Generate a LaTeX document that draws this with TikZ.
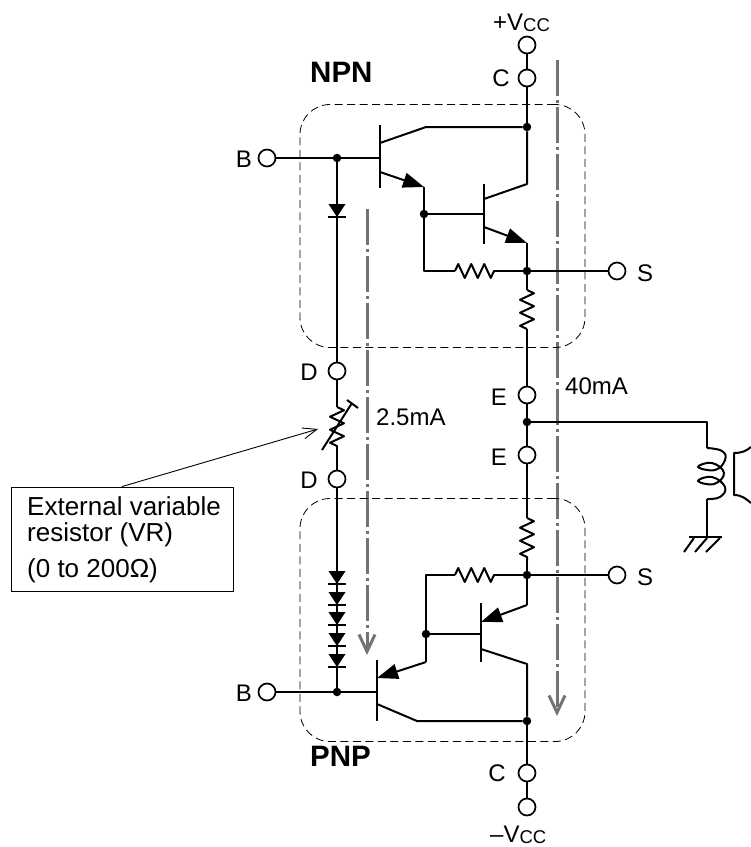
\documentclass[tikz,border=0pt]{standalone}
\usepackage{fontspec}
\setmainfont{Liberation Sans}
\usetikzlibrary{arrows.meta,decorations.pathmorphing}
\definecolor{grisFleche}{gray}{0.45}
\tikzstyle{fil}=[line width=2pt,line join=round]
\tikzstyle{filGras}=[line width=2.8pt]
\tikzstyle{borne}=[circle,draw,line width=1.7pt,fill=white,inner sep=0pt,minimum size=17pt]
\tikzstyle{point}=[circle,fill=black,inner sep=0pt,minimum size=8.5pt]
\tikzstyle{cadre}=[rectangle,rounded corners=30pt,draw,line width=0.8pt,dash pattern=on 8pt off 4.5pt,minimum width=285pt,minimum height=243pt,inner sep=0pt]
\tikzstyle{boite}=[rectangle,draw,line width=0.9pt,minimum width=222pt,minimum height=104pt,inner sep=0pt]
\tikzstyle{texte}=[font=\fontsize{24}{27}\selectfont,inner sep=0pt]
\tikzstyle{texteVR}=[font=\fontsize{26}{29}\selectfont,inner sep=0pt]
\tikzstyle{titre}=[font=\fontsize{29.5}{32}\selectfont\bfseries,inner sep=0pt]
\tikzstyle{emet}=[fil,-{Triangle[length=21pt,width=15pt]}]
\tikzstyle{base}=[line width=2.2pt]
\tikzstyle{courant}=[grisFleche,line width=3pt,dash pattern=on 36pt off 4pt on 3pt off 4pt,-{Straight Barb[length=17pt,width=16pt]}]
\tikzstyle{fleche}=[line width=0.9pt,-{Straight Barb[length=14pt,width=11pt]}]
\tikzstyle{resist}=[fil,decorate,decoration={zigzag,segment length=13pt,amplitude=7pt}]
\newcommand{\CC}{{\fontsize{18.5}{18.5}\selectfont\raisebox{-1.5pt}{CC}}}
\newcommand{\diode}[1]{\fill (337,#1) -- ++(-8.5,-13) -- ++(17,0) -- cycle;
\draw[line width=1.6pt] (328,#1) -- (346,#1);}
\begin{document}
\begin{tikzpicture}[x=1pt,y=-1pt]
\useasboundingbox (0,0) rectangle (751,847);
\coordinate (IDh) at (367,209);
\coordinate (IDb) at (367,655);
\coordinate (ICh) at (557,60);
\coordinate (ICb) at (557,716);
\draw[courant] (IDh)--(IDb);
\draw[courant] (ICh)--(ICb);
\node[cadre] (NPNc) at (442.5,226) {};
\node[cadre] (PNPc) at (442.5,620) {};

\node[borne] (VP) at (527,45) {};
\node[borne] (CH) at (527,78) {};
\node[borne] (VN) at (527,807) {};
\node[borne] (CB) at (527,773) {};
\node[borne] (BH) at (267,158) {};
\node[borne] (BB) at (267,692) {};
\node[borne] (DH) at (337,371) {};
\node[borne] (DB) at (337,479) {};
\node[borne] (EH) at (527,395) {};
\node[borne] (EB) at (527,455) {};
\node[borne] (SH) at (617,271) {};
\node[borne] (SB) at (617,575) {};

\node[point] (N1) at (527,127) {};
\node[point] (N2) at (337,158) {};
\node[point] (N3) at (424,214) {};
\node[point] (N4) at (527,271) {};
\node[point] (N5) at (527,422) {};
\node[point] (N6) at (527,575) {};
\node[point] (N7) at (426,634) {};
\node[point] (N8) at (337,692) {};
\node[point] (N9) at (527,721) {};

\node[texte,anchor=base west] (Tvp) at (493,30) {+V\CC};
\node[texte,anchor=east] (Tch) at (510,78) {C};
\node[texte,anchor=east] (Tcb) at (506,773) {C};
\node[texte,anchor=base west] (Tvn) at (490,842) {–V\CC};
\node[texte,anchor=east] (Tbh) at (252,159) {B};
\node[texte,anchor=east] (Tbb) at (252,693) {B};
\node[texte,anchor=east] (Tdh) at (318,372) {D};
\node[texte,anchor=east] (Tdb) at (318,480) {D};
\node[texte,anchor=east] (Teh) at (507,397) {E};
\node[texte,anchor=east] (Teb) at (507,457) {E};
\node[texte,anchor=west] (Tsh) at (637,273) {S};
\node[texte,anchor=west] (Tsb) at (637,577) {S};
\node[texte,anchor=base west] (Tid) at (376,425) {2.5mA};
\node[texte,anchor=base west] (Tic) at (565,394) {40mA};
\node[titre,anchor=base west] (Tnpn) at (310,82) {NPN};
\node[titre,anchor=base west] (Tpnp) at (310,766) {PNP};
\node[boite] (VR) at (122,539) {};
\node[texteVR,anchor=base west] (Tvr1) at (27,515) {External variable};
\node[texteVR,anchor=base west] (Tvr2) at (27,541) {resistor (VR)};
\node[texteVR,anchor=base west] (Tvr3) at (27,577) {(0 to 200Ω)};

\coordinate (Q1h) at (380,125);
\coordinate (Q1b) at (380,188);
\coordinate (Q1c) at (380,143);
\coordinate (Q1e) at (380,172);
\coordinate (Q1m) at (380,158);
\coordinate (Q1k) at (426,127);
\coordinate (Q1t) at (424,187);
\coordinate (Q2h) at (484,184);
\coordinate (Q2b) at (484,244);
\coordinate (Q2c) at (484,199);
\coordinate (Q2e) at (484,227);
\coordinate (Q2m) at (484,214);
\coordinate (Q2k) at (527,184);
\coordinate (Q2t) at (527,243);
\coordinate (RHa) at (424,271);
\coordinate (RHb) at (455,271);
\coordinate (RHc) at (495,271);
\coordinate (RVa) at (527,290);
\coordinate (RVb) at (527,329);
\draw[fil] (VP)--(CH);
\draw[fil] (CH)--(N1);
\draw[fil] (BH)--(N2);
\draw[fil] (N2)--(Q1m);
\draw[base] (Q1h)--(Q1b);
\draw[fil] (Q1c)--(Q1k)--(N1);
\draw[emet] (Q1e)--(Q1t);
\draw[fil] (Q1t)--(N3);
\draw[fil] (N3)--(Q2m);
\draw[base] (Q2h)--(Q2b);
\draw[fil] (Q2c)--(Q2k)--(N1);
\draw[emet] (Q2e)--(Q2t);
\draw[fil] (Q2t)--(N4);
\draw[fil] (N3)--(RHa)--(RHb);
\draw[resist] (RHb)--(RHc);
\draw[fil] (RHc)--(N4);
\draw[fil] (N4)--(SH);
\draw[fil] (N4)--(RVa);
\draw[resist] (RVa)--(RVb);
\draw[fil] (RVb)--(EH);
\draw[fil] (EH)--(N5);
\draw[fil] (N5)--(EB);

\coordinate (FD) at (337,292);
\draw[filGras] (N2)--(FD);
\draw[fil] (FD)--(DH);
\diode{217}
\coordinate (VRa) at (337,407);
\coordinate (VRb) at (337,447);
\coordinate (VRc) at (322,450);
\coordinate (VRd) at (352,403);
\coordinate (VRe) at (347,400);
\coordinate (VRf) at (358,408);
\coordinate (VRp) at (318,429);
\draw[fil] (DH)--(VRa);
\draw[resist] (VRa)--(VRb);
\draw[fil] (VRb)--(DB);
\draw[fil] (VRc)--(VRd);
\draw[fil] (VRe)--(VRf);
\draw[fleche] (VR.north)--(VRp);

\coordinate (FE) at (337,667);
\draw[fil] (DB)--(FE);
\draw[filGras] (FE)--(N8);
\diode{584}
\diode{605}
\diode{625}
\diode{646}
\diode{667}

\coordinate (RWa) at (527,518);
\coordinate (RWb) at (527,560);
\coordinate (RGa) at (426,575);
\coordinate (RGb) at (455,575);
\coordinate (RGc) at (495,575);
\coordinate (Q3h) at (377,660);
\coordinate (Q3b) at (377,721);
\coordinate (Q3m) at (377,692);
\coordinate (Q3t) at (377,678);
\coordinate (Q3c) at (377,704);
\coordinate (Q3k) at (417,721);
\coordinate (Q3e) at (426,662);
\coordinate (Q4h) at (481,603);
\coordinate (Q4b) at (481,662);
\coordinate (Q4m) at (481,634);
\coordinate (Q4t) at (481,622);
\coordinate (Q4c) at (481,649);
\coordinate (Q4k) at (527,664);
\coordinate (Q4e) at (527,605);
\draw[fil] (EB)--(RWa);
\draw[resist] (RWa)--(RWb);
\draw[fil] (RWb)--(N6);
\draw[fil] (N6)--(SB);
\draw[fil] (N6)--(RGc);
\draw[resist] (RGb)--(RGc);
\draw[fil] (RGb)--(RGa)--(N7);
\draw[fil] (N7)--(Q3e);
\draw[emet] (Q3e)--(Q3t);
\draw[base] (Q3h)--(Q3b);
\draw[fil] (BB)--(N8);
\draw[fil] (N8)--(Q3m);
\draw[fil] (Q3c)--(Q3k)--(N9);
\draw[fil] (N7)--(Q4m);
\draw[base] (Q4h)--(Q4b);
\draw[fil] (N6)--(Q4e);
\draw[emet] (Q4e)--(Q4t);
\draw[fil] (Q4c)--(Q4k)--(N9);
\draw[fil] (N9)--(CB);
\draw[fil] (CB)--(VN);

\coordinate (LS) at (707,422);
\coordinate (La) at (707,448);
\coordinate (Lb) at (707,499);
\coordinate (GND) at (707,537);
\coordinate (Ga) at (689,537);
\coordinate (Gb) at (722,537);
\draw[fil] (N5)--(LS)--(La);
\draw[fil] plot[smooth,tension=0.75] coordinates {(707,448) (722,451) (725,460) (715,470) (698,467) (712,463) (724,473) (714,484) (698,481) (712,477) (725,487) (720,497) (707,499)};
\draw[fil] (Lb)--(GND);
\draw[fil] (Ga)--(Gb);
\draw[fil] (694,538)--(684,552);
\draw[fil] (707,538)--(695,552);
\draw[fil] (720,538)--(706,552);
\draw[fil] (751,447) .. controls (746,451) and (742,453) .. (734,453) -- (734,495) .. controls (742,495) and (746,499) .. (751,503);
\end{tikzpicture}
\end{document}
